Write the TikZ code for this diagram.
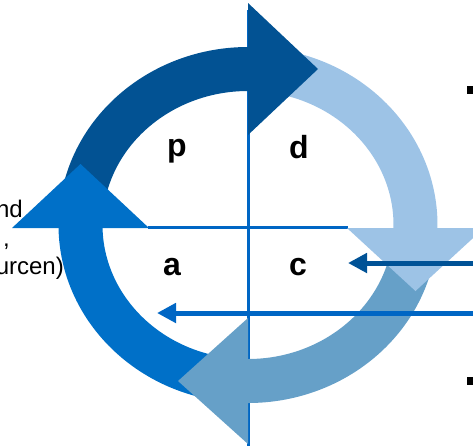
\documentclass[tikz,border=0pt]{standalone}
\usepackage{fontspec}
\setmainfont{Liberation Sans}
\usetikzlibrary{arrows.meta,calc}
\definecolor{cdark}{RGB}{2,82,147}
\definecolor{clight}{RGB}{157,195,230}
\definecolor{csteel}{RGB}{102,160,200}
\definecolor{cmed}{RGB}{0,112,200}
\definecolor{caxis}{RGB}{0,102,196}
\definecolor{carrA}{RGB}{0,82,150}
\begin{document}
\begin{tikzpicture}[x=1pt,y=-1pt,
  ring/.style={line width=44pt},
  axisline/.style={caxis,line width=3pt},
  flow/.style={line width=5pt,-{Triangle[length=19pt,width=19pt]}},
  lbl/.style={font=\fontsize{32}{36}\selectfont\bfseries,inner sep=0pt,anchor=base},
  side/.style={font=\fontsize{24}{28}\selectfont,inner sep=0pt,anchor=base east}]
\useasboundingbox (0,0) rectangle (473,445);
\clip (0,0) rectangle (473,445);
\coordinate (o) at (248,225);
% axes
\coordinate (vtop) at (248,10);
\coordinate (vbot) at (248,446);
\coordinate (hl) at (148,227.5);
\coordinate (hr) at (348,227.5);
\draw[axisline] (vtop) -- (vbot);
\draw[axisline] (hl) -- (hr);
% ring segments
\draw[ring,cdark] ($(o)+(190:167.5 and 156)$) arc[start angle=190,end angle=271,x radius=167.5,y radius=156];
\draw[ring,clight] ($(o)+(280:167.5 and 156)$) arc[start angle=280,end angle=362,x radius=167.5,y radius=156];
\draw[ring,csteel] ($(o)+(10:167.5 and 156)$) arc[start angle=10,end angle=91,x radius=167.5,y radius=156];
\draw[ring,cmed] ($(o)+(100:167.5 and 156)$) arc[start angle=100,end angle=180,x radius=167.5,y radius=156];
% heads
\fill[cdark] (248,3) -- (318,69) -- (248,135) -- cycle;
\fill[clight] (347,228) -- (484,228) -- (415.5,291) -- cycle;
\fill[csteel] (248,318) -- (178,381) -- (248,444) -- cycle;
\fill[cmed] (12,228) -- (149,228) -- (80.5,164) -- cycle;
% quadrant labels
\node[lbl] (p) at (177,156) {p};
\node[lbl] (d) at (299,158) {d};
\node[lbl] (a) at (172,275) {a};
\node[lbl] (c) at (298,275) {c};
% incoming arrows
\coordinate (r1) at (480,263);
\coordinate (t1) at (348,263);
\coordinate (r2) at (480,313);
\coordinate (t2) at (157,313);
\draw[flow,carrA] (r1) -- (t1);
\draw[flow,caxis] (r2) -- (t2);
% cut-off side text
\node[side] (s1) at (23,217) {nd};
\node[side] (s2) at (10,246) {,};
\node[side] (s3) at (64,274) {urcen)};
% bullets
\fill[black] (467,86) rectangle (475,94);
\fill[black] (467,377) rectangle (475,385);
\end{tikzpicture}
\end{document}
